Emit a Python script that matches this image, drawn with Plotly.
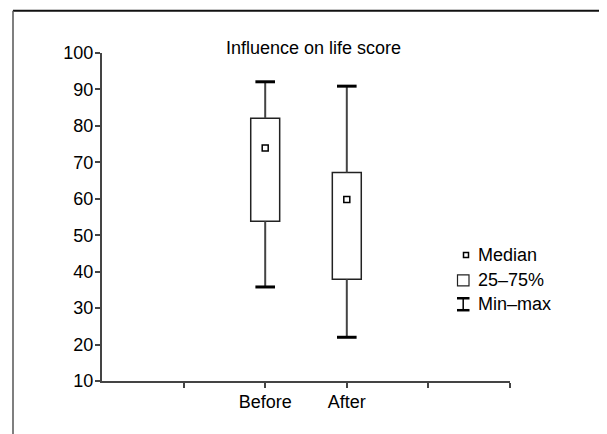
import plotly.graph_objects as go

# ---- data ----
categories = ["Before", "After"]
cat_pos = [2, 3]
minimum = [35.8, 22.0]
q1 = [53.8, 37.9]
median = [73.9, 59.8]
q3 = [82.1, 67.2]
maximum = [92.1, 90.9]
y_ticks = [10, 20, 30, 40, 50, 60, 70, 80, 90, 100]
x_tickvals = [1, 2, 3, 4, 5]
x_ticktext = ["", "Before", "After", "", ""]
legend_labels = ["Median", "25\u201375%", "Min\u2013max"]
title_text = "Influence on life score"

W, H = 607, 434
OFF = 8  # page body margin offset
# plot area in screen pixels: x 102..510, y 52.5..381.5
L = 102 - OFF
R = W - (510 - OFF)
T = 52.5 - OFF
B = H - (381.5 - OFF)
PW, PH = W - L - R, H - T - B
FONT = "Liberation Sans, Arial, sans-serif"


def px(x):
    return (x - OFF - L) / PW


def py(y):
    return (H - B - (y - OFF)) / PH


fig = go.Figure()

# IQR boxes
fig.add_trace(go.Bar(
    x=cat_pos, base=q1, y=[b - a for a, b in zip(q1, q3)], width=0.355,
    marker=dict(color="white", line=dict(color="#222", width=1.5)),
    showlegend=False, hoverinfo="skip"))

# whiskers
wx, wy = [], []
for x, lo, a, b, hi in zip(cat_pos, minimum, q1, q3, maximum):
    wx += [x, x, None, x, x, None]
    wy += [b, hi, None, lo, a, None]
fig.add_trace(go.Scatter(x=wx, y=wy, mode="lines",
                         line=dict(color="#444", width=2),
                         showlegend=False, hoverinfo="skip"))

# caps
fig.add_trace(go.Scatter(x=cat_pos + cat_pos, y=minimum + maximum, mode="markers",
                         marker=dict(symbol="line-ew", size=14,
                                     line=dict(color="black", width=3)),
                         showlegend=False, hoverinfo="skip"))

# medians
fig.add_trace(go.Scatter(x=cat_pos, y=median, mode="markers",
                         marker=dict(symbol="square", size=6, color="white",
                                     line=dict(color="black", width=1.5)),
                         showlegend=False, hoverinfo="skip"))

shapes = []
# frame
shapes.append(dict(type="line", xref="paper", yref="paper", x0=px(13), x1=px(607),
                   y0=py(10), y1=py(10), line=dict(color="#111", width=2)))
shapes.append(dict(type="line", xref="paper", yref="paper", x0=px(13), x1=px(13),
                   y0=py(10), y1=py(440), line=dict(color="#555", width=1.5)))
shapes.append(dict(type="line", xref="paper", yref="paper", x0=px(606), x1=px(606),
                   y0=py(10), y1=py(440), line=dict(color="#c0c0c0", width=1.5)))
# legend symbols
shapes.append(dict(type="rect", xref="paper", yref="paper", x0=px(463.5), x1=px(468.5),
                   y0=py(252.5), y1=py(257.5), line=dict(color="black", width=1.5)))
shapes.append(dict(type="rect", xref="paper", yref="paper", x0=px(457.5), x1=px(469),
                   y0=py(275), y1=py(286), line=dict(color="#222", width=1.2)))
for yy in (298.5, 310.5):
    shapes.append(dict(type="line", xref="paper", yref="paper", x0=px(457), x1=px(469.5),
                       y0=py(yy), y1=py(yy), line=dict(color="black", width=2.5)))
shapes.append(dict(type="line", xref="paper", yref="paper", x0=px(463.2), x1=px(463.2),
                   y0=py(298.5), y1=py(310.5), line=dict(color="black", width=1.5)))

annotations = [dict(text=title_text, xref="paper", yref="paper", x=px(313), y=py(47.5),
                    xanchor="center", yanchor="middle", showarrow=False,
                    font=dict(family=FONT, size=18, color="black"))]
for lab, yy in zip(legend_labels, (255, 280.5, 304)):
    annotations.append(dict(text=lab, xref="paper", yref="paper", x=px(476), y=py(yy),
                            xanchor="left", yanchor="middle", showarrow=False,
                            font=dict(family=FONT, size=18, color="black")))

fig.update_layout(
    width=W, height=H, margin=dict(l=L, r=R, t=T, b=B),
    paper_bgcolor="white", plot_bgcolor="white",
    shapes=shapes, annotations=annotations, showlegend=False,
    font=dict(family=FONT, size=18, color="black"),
    xaxis=dict(range=[0, 5], tickvals=x_tickvals, ticktext=x_ticktext,
               showline=True, linecolor="#444", linewidth=2, ticks="outside",
               ticklen=5, tickwidth=1.5, tickcolor="#444", showgrid=False,
               zeroline=False, fixedrange=True, ticklabelstandoff=-2),
    yaxis=dict(range=[10, 100], tickvals=y_ticks, showline=True, linecolor="#444",
               linewidth=2, ticks="outside", ticklen=5, tickwidth=1.5, tickcolor="#444",
               showgrid=False, zeroline=False, fixedrange=True, ticklabelstandoff=-2),
)

fig.write_html("out.html", config={"displayModeBar": False})
